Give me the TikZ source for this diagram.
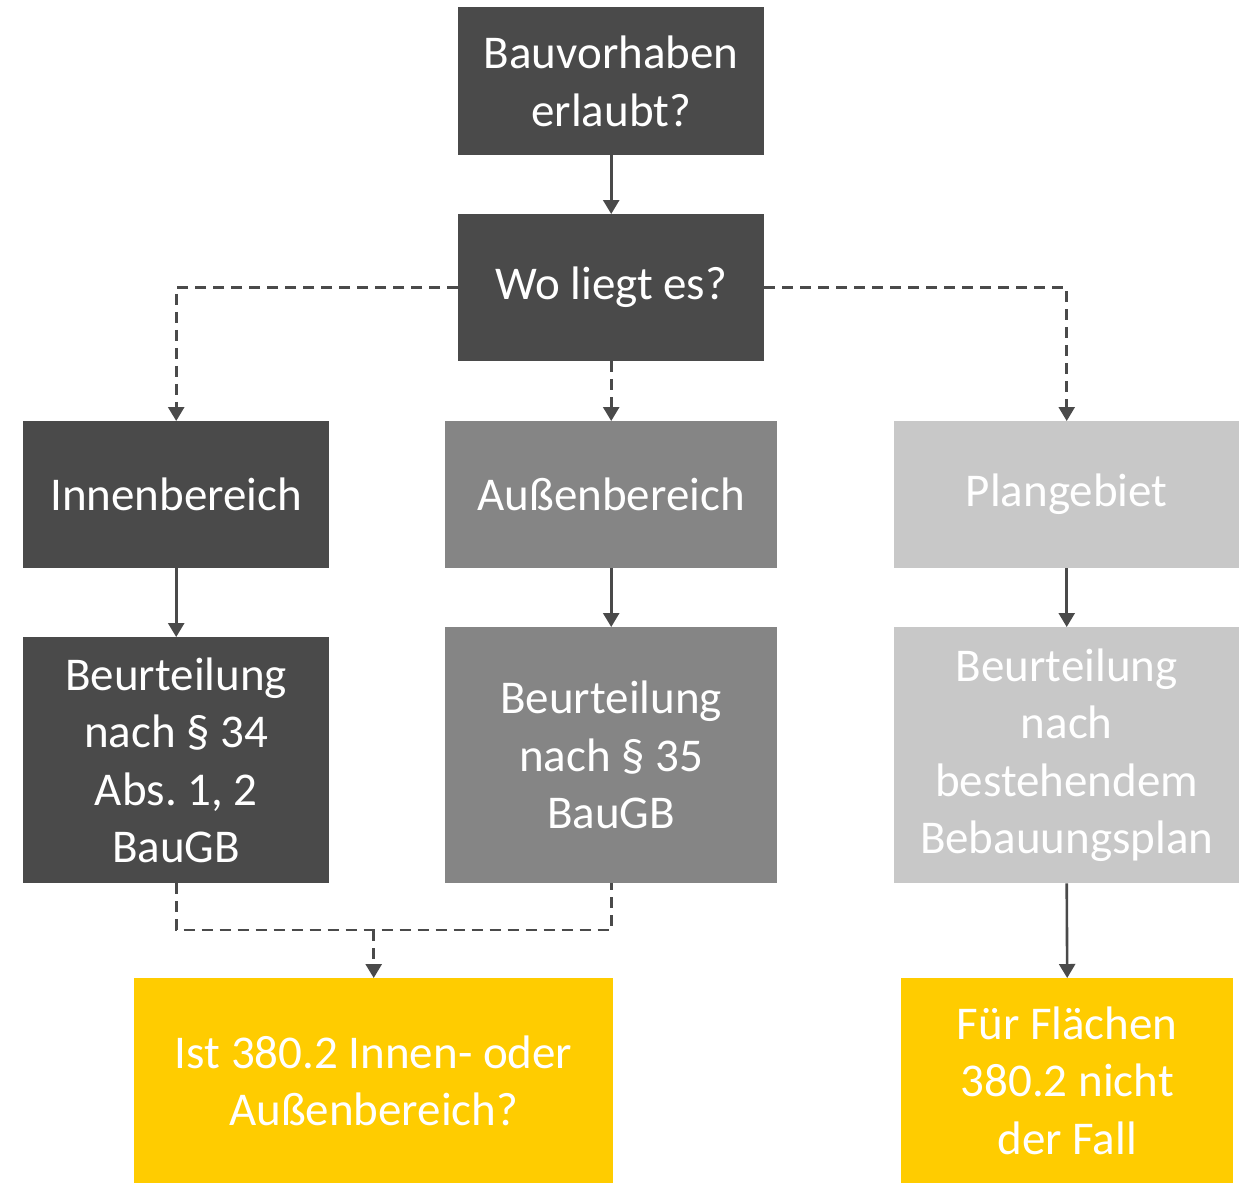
\documentclass[tikz,border=0pt]{standalone}
\usepackage{fontspec}
\setmainfont{Carlito}
\usetikzlibrary{arrows.meta}
\definecolor{dunkel}{HTML}{4A4A4A}
\definecolor{mittel}{HTML}{858585}
\definecolor{hell}{HTML}{C8C8C8}
\definecolor{gelb}{HTML}{FFCC00}
\frenchspacing
\begin{document}
\begin{tikzpicture}[x=1pt, y=-1pt, >={Triangle[width=16pt, length=14pt]},
		font=\fontsize{47}{57.5}\selectfont, line join=miter,
		box/.style={fill=#1, text=white, align=center, inner sep=0pt, anchor=north west},
		pfeil/.style={->, draw=dunkel, line width=2.6pt},
		strich/.style={draw=dunkel, line width=2.6pt, dash pattern=on 11pt off 7pt}]
	\useasboundingbox (0,0) rectangle (1246,1183);
	
	% Fragen oben
	\node[box=dunkel, minimum width=306pt, minimum height=148pt] (Q) at (458,7) {Bauvorhaben\\erlaubt?};
	\node[box=dunkel, minimum width=306pt, minimum height=147pt] (W) at (458,214) {Wo liegt es?};
	
	% Bereiche
	\node[box=dunkel, minimum width=306pt, minimum height=147pt] (I) at (23,421) {Innenbereich};
	\node[box=mittel, minimum width=332pt, minimum height=147pt] (A) at (445,421) {Außenbereich};
	\node[box=hell, minimum width=345pt, minimum height=147pt] (P) at (894,421) {Plangebiet};
	
	% Beurteilung
	\node[box=dunkel, minimum width=306pt, minimum height=246pt] (BI) at (23,637) {Beurteilung\\nach § 34\\Abs. 1, 2\\BauGB};
	\node[box=mittel, minimum width=332pt, minimum height=256pt] (BA) at (445,627) {Beurteilung\\nach § 35\\BauGB};
	\node[box=hell, minimum width=345pt, minimum height=256pt] (BP) at (894,627) {Beurteilung\\nach\\bestehendem\\Bebauungsplan};
	
	% Ergebnisse
	\node[box=gelb, minimum width=479pt, minimum height=205pt] (EL) at (134,978) {Ist 380.2 Innen- oder\\Außenbereich?};
	\node[box=gelb, minimum width=332pt, minimum height=205pt] (ER) at (901,978) {Für Flächen\\380.2 nicht\\der Fall};
	
	% Verbindungen
	\draw[pfeil] (Q.south) -- (W.north);
	\draw[pfeil, strich] (W.west) -| (I.north);
	\draw[pfeil, strich] (W.south) -- (A.north);
	\draw[pfeil, strich] (W.east) -| (P.north);
	\draw[pfeil] (I.south) -- (BI.north);
	\draw[pfeil] (A.south) -- (BA.north);
	\draw[pfeil] (P.south) -- (BP.north);
	\draw[pfeil] (BP.south) -- (ER.north);
	
	\coordinate (M) at (EL.north |- 0,930);
	\draw[strich] (BI.south) |- (M) -| (BA.south);
	\draw[pfeil, strich] (M) -- (EL.north);
\end{tikzpicture}
\end{document}
